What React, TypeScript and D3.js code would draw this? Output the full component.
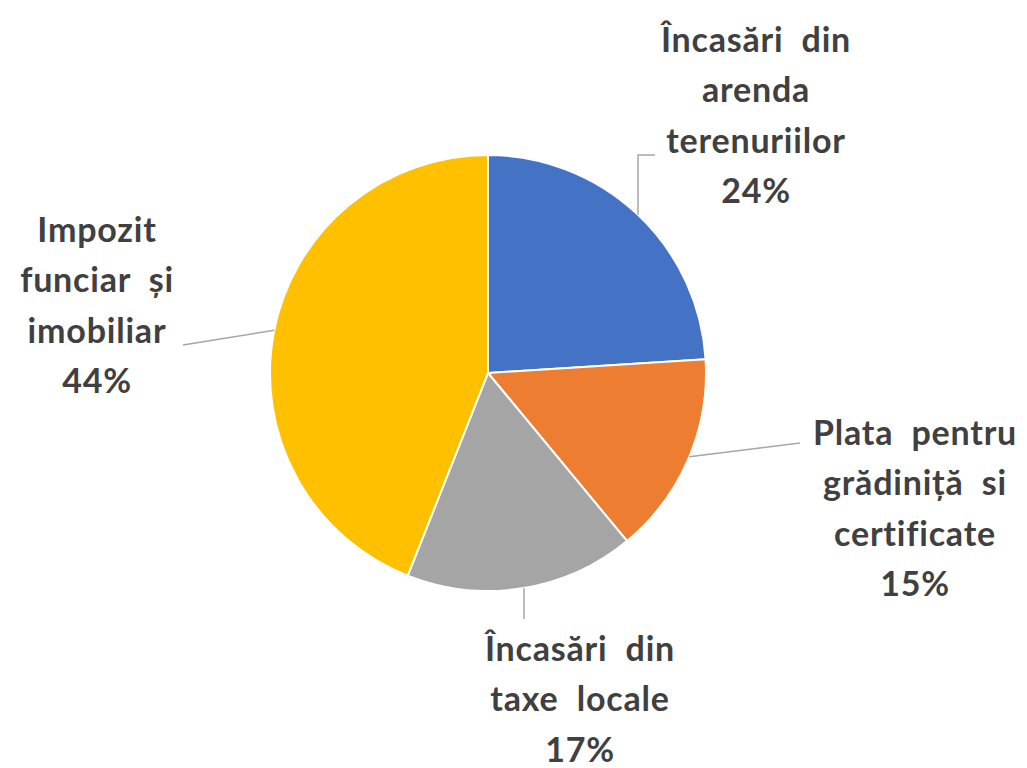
import React from "react";
import * as d3 from "d3";

const categories = [
  ["Încasări  din", "arenda", "terenuriilor"],
  ["Plata  pentru", "grădiniță  si", "certificate"],
  ["Încasări  din", "taxe  locale"],
  ["Impozit", "funciar  și", "imobiliar"],
];
const values = [24, 15, 17, 44];
const colors = ["#4472C4", "#ED7D31", "#A5A5A5", "#FFC000"];

// label layout: center x, first line center y; leader: label-side points and pie-side direction
const labelLayout = [
  { x: 756, y: 40, leader: [[655, 155], [638, 155]], hit: "v" },
  { x: 915, y: 433, leader: [[800, 443]], hit: "toAngle", angle: 112.6 },
  { x: 580, y: 649, leader: [[524, 619]], hit: "v" },
  { x: 97, y: 230, leader: [[183, 345]], hit: "toAngle", angle: 281.3 },
];

const W = 1027, H = 768;
const cx = 488, cy = 373, R = 218;
const lineH = 50.5;

export default function App() {
  const pie = d3.pie<number>().sort(null).value((d) => d);
  const arcs = pie(values);
  const arc = d3.arc<d3.PieArcDatum<number>>().innerRadius(0).outerRadius(R);
  const total = d3.sum(values);

  return (
    <svg width={W} height={H} style={{ position: "absolute", left: 0, top: 0, background: "#fff" }}>
      <g transform={`translate(${cx},${cy})`}>
        {arcs.map((a, i) => (
          <path key={i} d={arc(a) || ""} fill={colors[i]} stroke="#fff" strokeWidth={2} />
        ))}
      </g>
      {labelLayout.map((L, i) => {
        const pts = L.leader.map((p) => [p[0], p[1]]);
        const last = pts[pts.length - 1];
        let end: number[];
        if (L.hit === "v") {
          const dx = last[0] - cx;
          const dy = Math.sqrt(R * R - dx * dx);
          end = [last[0], last[1] < cy ? cy - dy : cy + dy];
        } else {
          const ang = ((L.angle as number) * Math.PI) / 180;
          end = [cx + R * Math.sin(ang), cy - R * Math.cos(ang)];
        }
        const all = [...pts, end];
        return (
          <path
            key={"l" + i}
            d={d3.line()(all as [number, number][]) || ""}
            fill="none"
            stroke="#A6A6A6"
            strokeWidth={1.5}
          />
        );
      })}
      {labelLayout.map((L, i) => {
        const lines = [...categories[i], `${Math.round((values[i] / total) * 100)}%`];
        return (
          <text
            key={"t" + i}
            textAnchor="middle"
            fontFamily="Lato, 'Open Sans', sans-serif"
            fontWeight="bold"
            fontSize={34}
            letterSpacing={0.8}
            fill="#404040"
          >
            {lines.map((s, j) => (
              <tspan key={j} x={L.x} y={L.y + j * lineH} dy="0.35em" style={{ whiteSpace: "pre" }}>
                {s}
              </tspan>
            ))}
          </text>
        );
      })}
    </svg>
  );
}
